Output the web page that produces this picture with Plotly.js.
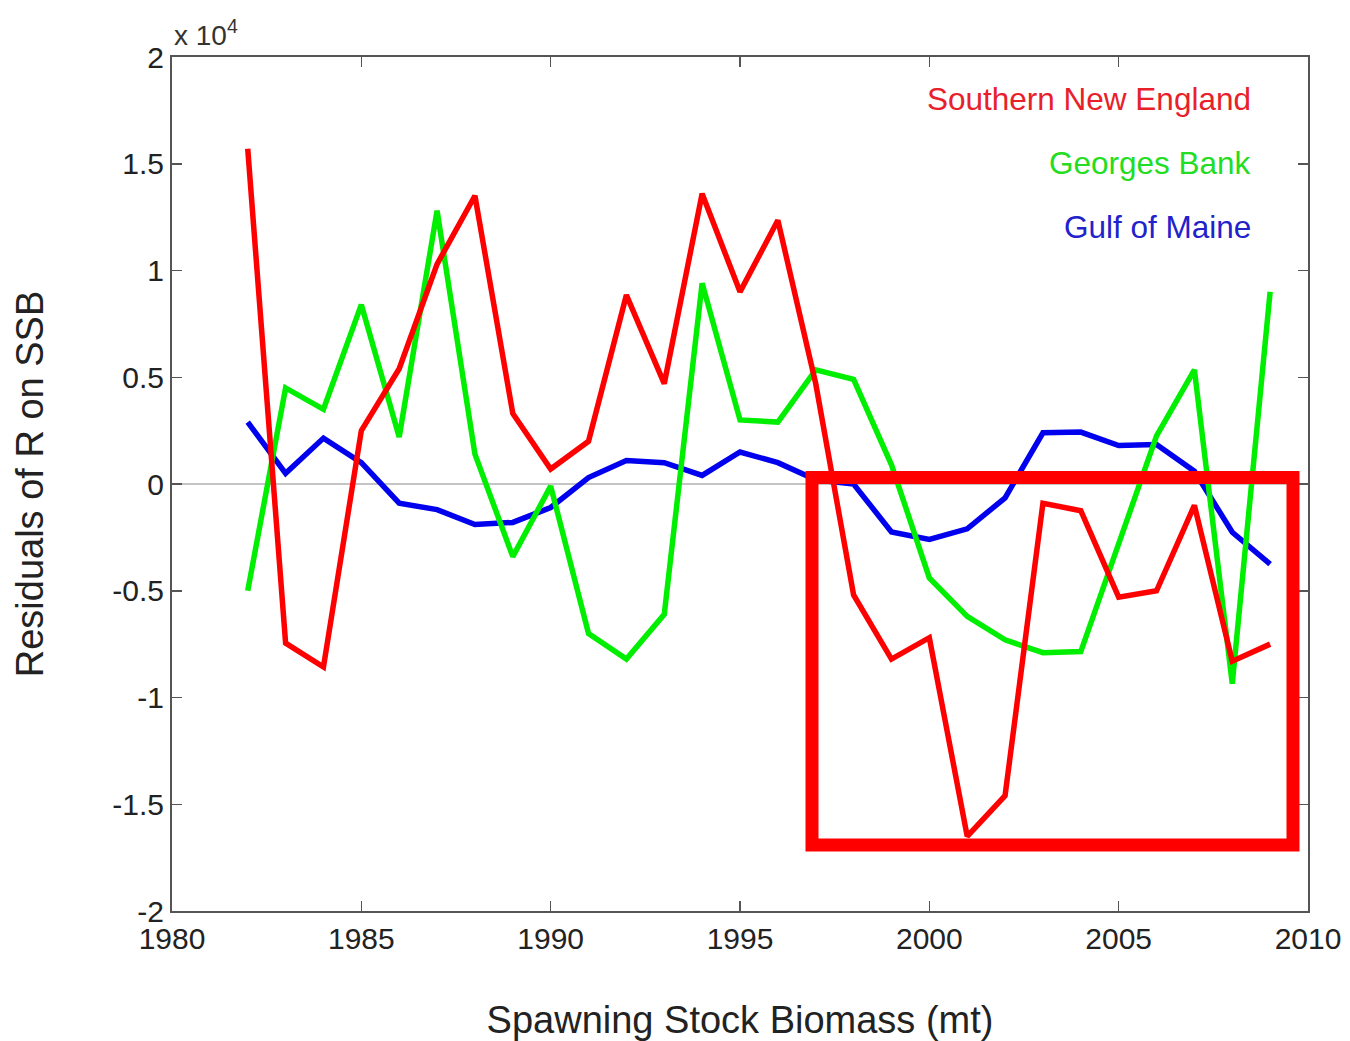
<!DOCTYPE html>
<html>
<head>
<meta charset="utf-8">
<script src="https://cdn.plot.ly/plotly-3.0.1.min.js"></script>
<style>html,body{margin:0;padding:0;background:#fff;}#chart{width:1350px;height:1041px;}</style>
</head>
<body>
<div id="chart"></div>
<script>
// Data (residuals, units of 10^4)
const years = [1982,1983,1984,1985,1986,1987,1988,1989,1990,1991,1992,1993,1994,1995,1996,1997,1998,1999,2000,2001,2002,2003,2004,2005,2006,2007,2008,2009];
const southernNewEngland = [1.57,-0.745,-0.857,0.25,0.54,1.03,1.35,0.33,0.07,0.20,0.885,0.47,1.36,0.90,1.235,0.47,-0.52,-0.82,-0.72,-1.65,-1.46,-0.09,-0.125,-0.53,-0.50,-0.10,-0.83,-0.75];
const georgesBank = [-0.50,0.45,0.35,0.84,0.22,1.28,0.14,-0.34,-0.01,-0.70,-0.82,-0.61,0.94,0.30,0.29,0.535,0.49,0.09,-0.44,-0.62,-0.73,-0.79,-0.785,-0.28,0.225,0.535,-0.935,0.90];
const gulfOfMaine = [0.29,0.05,0.215,0.10,-0.09,-0.12,-0.19,-0.18,-0.11,0.03,0.11,0.10,0.04,0.15,0.10,0.02,0.0,-0.225,-0.26,-0.21,-0.065,0.24,0.243,0.18,0.185,0.06,-0.226,-0.375];
const seriesNames = ["Southern New England","Georges Bank","Gulf of Maine"];
const xTicks = [1980,1985,1990,1995,2000,2005,2010];
const yTicks = [-2,-1.5,-1,-0.5,0,0.5,1,1.5,2];
const yTickLabels = ["-2","-1.5","-1","-0.5","0","0.5","1","1.5","2"];

const colors = ["#ff0000","#00ee00","#0000ee"];
const legendColors = ["#e8202a","#22dd22","#2222cc"];
const seriesData = [southernNewEngland, georgesBank, gulfOfMaine];
const order = [2,1,0];
const traces = order.map(i => ({
  x: years, y: seriesData[i], type: 'scatter', mode: 'lines', name: seriesNames[i],
  line: {color: colors[i], width: 5.5}, showlegend: false, hoverinfo: 'x+y'
}));

const font = "Liberation Sans, Arial, sans-serif";
const annotations = seriesNames.map((n, i) => ({
  xref: 'paper', yref: 'paper', x: (1253-172)/1136, y: 1 - (42 + 64*i)/854, xanchor: 'right', yanchor: 'middle',
  text: n, showarrow: false, font: {family: font, size: 31.5, color: legendColors[i]}
}));
annotations.push({
  xref: 'paper', yref: 'paper', x: 0, y: 1.005, xanchor: 'left', yanchor: 'bottom',
  text: 'x 10<sup>4</sup>', showarrow: false, font: {family: font, size: 28, color: '#333'}
});

const layout = {
  width: 1350, height: 1041,
  margin: {l: 172, r: 42, t: 57, b: 130},
  paper_bgcolor: '#fff', plot_bgcolor: '#fff',
  font: {family: font, color: '#222'},
  xaxis: {
    range: [1980, 2010], tickvals: xTicks, ticktext: xTicks.map(String),
    ticks: 'inside', ticklen: 10, tickwidth: 1.5, tickcolor: '#555',
    showline: true, linecolor: '#555', linewidth: 2, mirror: 'ticks',
    showgrid: false, zeroline: false,
    tickfont: {family: font, size: 30, color: '#222'},
    title: {text: 'Spawning Stock Biomass (mt)', font: {family: font, size: 38, color: '#222'}, standoff: 53}
  },
  yaxis: {
    range: [-2, 2], tickvals: yTicks, ticktext: yTickLabels,
    ticks: 'inside', ticklen: 10, tickwidth: 1.5, tickcolor: '#555',
    showline: true, linecolor: '#555', linewidth: 2, mirror: 'ticks',
    showgrid: false, zeroline: true, zerolinecolor: '#c4c4c4', zerolinewidth: 2,
    tickfont: {family: font, size: 30, color: '#222'},
    title: {text: 'Residuals of R on SSB', font: {family: font, size: 38, color: '#222'}, standoff: 57}
  },
  annotations: annotations,
  shapes: [{
    type: 'rect', xref: 'paper', yref: 'paper',
    x0: (812-172)/1136, x1: (1293-172)/1136, y0: (911-845)/854, y1: (911-477.5)/854,
    line: {color: '#ff0000', width: 13}, fillcolor: 'rgba(0,0,0,0)'
  }]
};

Plotly.newPlot('chart', traces, layout, {displayModeBar: false, staticPlot: true});
</script>
</body>
</html>
